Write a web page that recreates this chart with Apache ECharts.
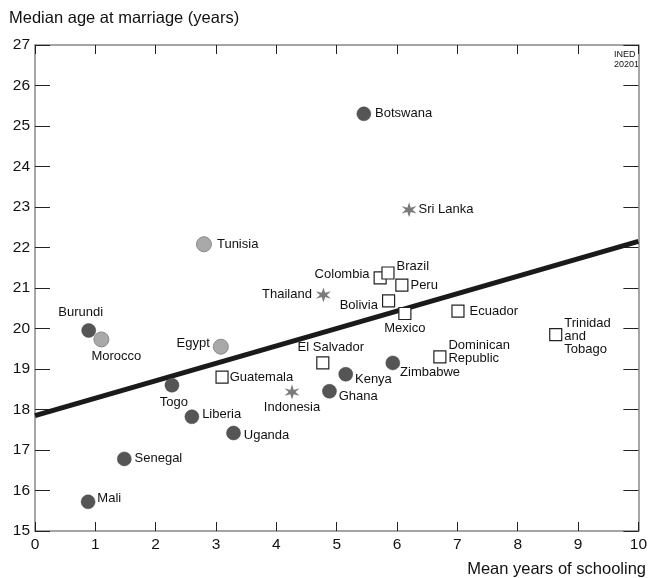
<!DOCTYPE html>
<html>
<head>
<meta charset="utf-8">
<script src="https://cdn.jsdelivr.net/npm/echarts@6/dist/echarts.min.js"></script>
<style>
html,body{margin:0;padding:0;background:#fff;}
#chart{width:650px;height:578px;}
</style>
</head>
<body>
<div id="chart"></div>
<script>
// ---- Data ----
var xTicks = [0,1,2,3,4,5,6,7,8,9,10];
var yTicks = [15,16,17,18,19,20,21,22,23,24,25,26,27];

// Africa (dark circles)
var africaNames = ['Botswana','Burundi','Mali','Senegal','Togo','Liberia','Uganda','Ghana','Kenya','Zimbabwe'];
var africaX     = [5.45, 0.89, 0.88, 1.48, 2.27, 2.60, 3.29, 4.88, 5.15, 5.93];
var africaY     = [25.30, 19.95, 15.72, 16.78, 18.60, 17.82, 17.42, 18.45, 18.87, 19.15];

// North Africa (light circles)
var nAfricaNames = ['Tunisia','Morocco','Egypt'];
var nAfricaX     = [2.80, 1.10, 3.08];
var nAfricaY     = [22.08, 19.73, 19.55];

// Asia (stars)
var asiaNames = ['Sri Lanka','Thailand','Indonesia'];
var asiaX     = [6.20, 4.78, 4.26];
var asiaY     = [22.93, 20.83, 18.43];

// Latin America (squares)
var latamNames = ['Colombia','Brazil','Peru','Bolivia','Mexico','Ecuador','El Salvador','Guatemala','Dominican\nRepublic','Trinidad\nand\nTobago'];
var latamX     = [5.72, 5.85, 6.08, 5.86, 6.13, 7.01, 4.77, 3.10, 6.71, 8.63];
var latamY     = [21.25, 21.37, 21.07, 20.68, 20.37, 20.43, 19.15, 18.80, 19.30, 19.85];

// Regression line
var trendX = [0, 10];
var trendY = [17.85, 22.15];

// ---- Label placement (style only) ----
var labelPos = {
  'Botswana': {position:'right', distance:4},
  'Burundi': {position:'top', distance:4, offset:[-8,0]},
  'Mali': {position:'right', distance:2, offset:[0,-3]},
  'Senegal': {position:'right', distance:3},
  'Togo': {position:'bottom', distance:3, offset:[2,0]},
  'Liberia': {position:'right', distance:3, offset:[0,-2]},
  'Uganda': {position:'right', distance:3, offset:[0,2]},
  'Ghana': {position:'right', distance:2, offset:[0,5]},
  'Kenya': {position:'right', distance:2, offset:[0,5]},
  'Zimbabwe': {position:'right', distance:0, offset:[0,9]},
  'Tunisia': {position:'right', distance:5},
  'Morocco': {position:'bottom', distance:2, offset:[15,0]},
  'Egypt': {position:'left', distance:3, offset:[0,-3]},
  'Sri Lanka': {position:'right', distance:2},
  'Thailand': {position:'left', distance:4},
  'Indonesia': {position:'bottom', distance:1},
  'Colombia': {position:'left', distance:4, offset:[0,-3]},
  'Brazil': {position:'right', distance:2, offset:[0,-7]},
  'Peru': {position:'right', distance:2},
  'Bolivia': {position:'left', distance:4, offset:[0,4]},
  'Mexico': {position:'bottom', distance:2},
  'Ecuador': {position:'right', distance:5},
  'El Salvador': {position:'top', distance:2, offset:[8,0]},
  'Guatemala': {position:'right', distance:1},
  'Dominican\nRepublic': {position:'right', distance:2, offset:[0,-5]},
  'Trinidad\nand\nTobago': {position:'right', distance:2, offset:[0,2]}
};

function build(names, xs, ys){
  return names.map(function(n,i){
    var lp = labelPos[n] || {position:'right'};
    return {name:n, value:[xs[i], ys[i]], label: Object.assign({show:true, formatter:n}, lp)};
  });
}

var starPath = 'path://M10 0 L12 7.2 L18.66 5 L14 10 L18.66 15 L12 12.8 L10 20 L8 12.8 L1.34 15 L6 10 L1.34 5 L8 7.2 Z';

var baseLabel = {
  show:true, color:'#111', fontSize:13, lineHeight:13,
  fontFamily:'Liberation Sans, Arial, sans-serif'
};

var axisColor = '#888';
var fontFam = 'Liberation Sans, Arial, sans-serif';

var chart = echarts.init(document.getElementById('chart'), null, {renderer:'canvas'});
chart.setOption({
  animation:false,
  backgroundColor:'#fff',
  grid:{left:35, right:6, top:45, bottom:47, containLabel:false},
  xAxis:[{
    type:'value', min:0, max:10, interval:1, position:'bottom',
    axisLine:{show:true, onZero:false, lineStyle:{color:axisColor, width:1.5}},
    axisTick:{show:true, inside:true, length:9, lineStyle:{color:'#222', width:1}},
    axisLabel:{color:'#111', fontSize:15.5, margin:6, fontFamily:fontFam,
      formatter:function(v){return xTicks.indexOf(v)>=0 ? String(v) : '';}},
    splitLine:{show:false}
  },{
    type:'value', min:0, max:10, interval:1, position:'top',
    axisLine:{show:true, onZero:false, lineStyle:{color:axisColor, width:1.5}},
    axisTick:{show:true, inside:true, length:9, lineStyle:{color:'#222', width:1}},
    axisLabel:{show:false}, splitLine:{show:false}
  }],
  yAxis:[{
    type:'value', min:15, max:27, interval:1, position:'left',
    axisLine:{show:true, onZero:false, lineStyle:{color:axisColor, width:1.5}},
    axisTick:{show:true, inside:true, length:15, lineStyle:{color:'#222', width:1}},
    axisLabel:{color:'#111', fontSize:15.5, margin:5, fontFamily:fontFam,
      formatter:function(v){return yTicks.indexOf(v)>=0 ? String(v) : '';}},
    splitLine:{show:false}
  },{
    type:'value', min:15, max:27, interval:1, position:'right',
    axisLine:{show:true, onZero:false, lineStyle:{color:axisColor, width:1.5}},
    axisTick:{show:true, inside:true, length:15, lineStyle:{color:'#222', width:1}},
    axisLabel:{show:false}, splitLine:{show:false}
  }],
  graphic:[
    {type:'text', left:9, top:10, style:{text:'Median age at marriage (years)', fill:'#111', font:'16.5px Liberation Sans, Arial, sans-serif'}},
    {type:'text', right:4, top:561, style:{text:'Mean years of schooling', fill:'#111', font:'16.5px Liberation Sans, Arial, sans-serif'}},
    {type:'text', right:11, top:50, style:{text:'INED\n20201', fill:'#111', font:'9px Liberation Sans, Arial, sans-serif', align:'right', lineHeight:10}}
  ],
  series:[
    {
      type:'line', data:trendX.map(function(x,i){return [x, trendY[i]];}),
      showSymbol:false, symbol:'none', lineStyle:{color:'#1a1a1a', width:5}, z:1, silent:true
    },
    {
      type:'scatter', data:build(africaNames, africaX, africaY), symbol:'circle', symbolSize:14,
      itemStyle:{color:'#555', borderColor:'#444', borderWidth:0.5, opacity:1}, label:baseLabel, z:3
    },
    {
      type:'scatter', data:build(nAfricaNames, nAfricaX, nAfricaY), symbol:'circle', symbolSize:15,
      itemStyle:{color:'#a9a9a9', borderColor:'#8a8a8a', borderWidth:1, opacity:1}, label:baseLabel, z:3
    },
    {
      type:'scatter', data:build(asiaNames, asiaX, asiaY), symbol:starPath, symbolSize:15,
      itemStyle:{color:'#7a7a7a', opacity:1}, label:baseLabel, z:3
    },
    {
      type:'scatter', data:build(latamNames, latamX, latamY), symbol:'rect', symbolSize:12,
      itemStyle:{color:'#fff', borderColor:'#222', borderWidth:1.2, opacity:1}, label:baseLabel, z:3
    }
  ]
});
</script>
</body>
</html>
